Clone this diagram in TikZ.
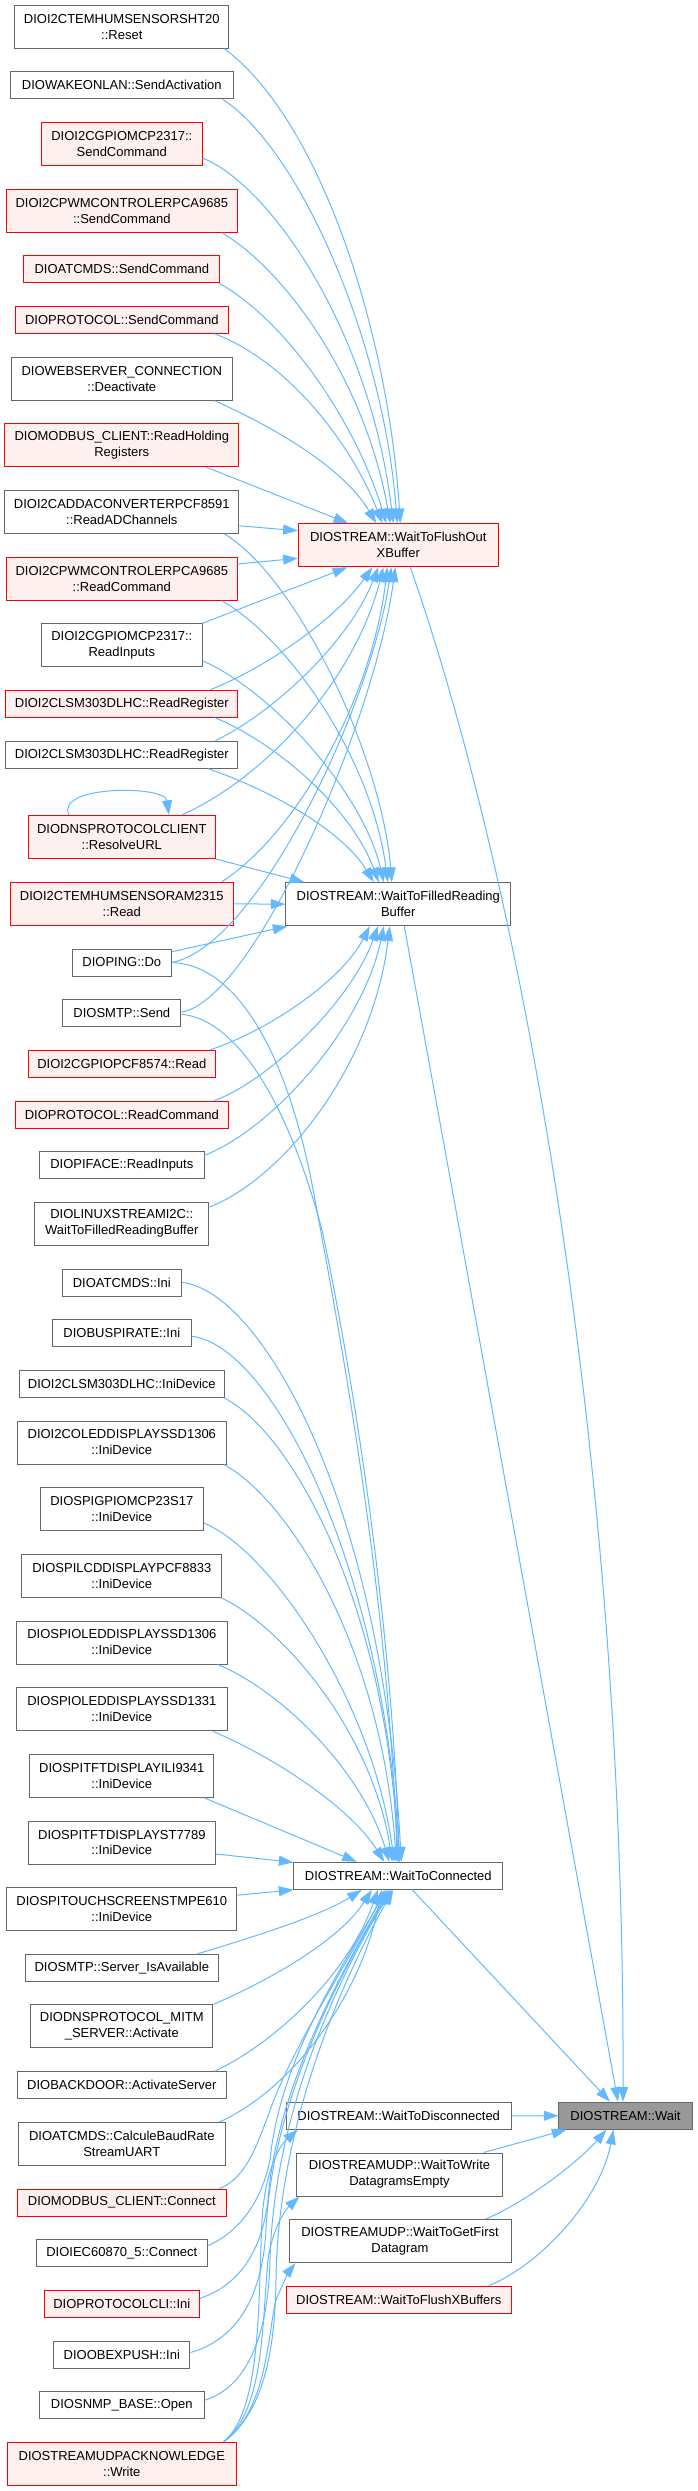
\documentclass[tikz,border=0pt]{standalone}
\usepackage{fontspec}
\setmainfont{Liberation Sans}
\usetikzlibrary{arrows.meta,calc}
\definecolor{edgeblue}{HTML}{63B8FF}
\definecolor{nodegray}{HTML}{666666}
\definecolor{redfill}{HTML}{FFF0F0}
\definecolor{waitfill}{HTML}{999999}

\begin{document}
\begin{tikzpicture}[x=0.75pt,y=-0.75pt,
  fn/.style={draw=nodegray,fill=white,line width=0.75pt,align=center,inner xsep=2pt,inner ysep=1pt,font=\fontsize{9.75pt}{12pt}\selectfont},
  one/.style={minimum height=20.25pt},
  two/.style={minimum height=32.25pt},
  hot/.style={draw=red,fill=redfill},
  cur/.style={fill=waitfill},
  call/.style={draw=edgeblue,line width=0.75pt,-{Triangle[length=11pt,width=7.5pt]}}]
\useasboundingbox (0,0) rectangle (697,2491);

% callers
\node[fn,two,minimum width=160.6pt] (sht20) at (121.8,26.7) {DIOI2CTEMHUMSENSORSHT20\\::Reset};
\node[fn,one,minimum width=167.2pt] (wakeonlan) at (121.8,85.3) {DIOWAKEONLAN::SendActivation};
\node[fn,two,hot,minimum width=120.3pt] (mcpsend) at (121.8,144) {DIOI2CGPIOMCP2317::\\SendCommand};
\node[fn,two,hot,minimum width=173.3pt] (pcasend) at (121.8,210.7) {DIOI2CPWMCONTROLERPCA9685\\::SendCommand};
\node[fn,one,hot,minimum width=146.8pt] (atsend) at (121.8,269.3) {DIOATCMDS::SendCommand};
\node[fn,one,hot,minimum width=159.5pt] (protosend) at (121.8,319.8) {DIOPROTOCOL::SendCommand};
\node[fn,two,minimum width=165.6pt] (websrv) at (121.8,378.7) {DIOWEBSERVER\_CONNECTION\\::Deactivate};
\node[fn,two,hot,minimum width=175.3pt] (mbholding) at (121.8,445.2) {DIOMODBUS\_CLIENT::ReadHolding\\Registers};
\node[fn,two,minimum width=175.6pt] (adda) at (121.8,511.8) {DIOI2CADDACONVERTERPCF8591\\::ReadADChannels};
\node[fn,two,hot,minimum width=173.3pt] (pcaread) at (121.8,578.7) {DIOI2CPWMCONTROLERPCA9685\\::ReadCommand};
\node[fn,two,minimum width=120.3pt] (mcpinputs) at (121.8,645.3) {DIOI2CGPIOMCP2317::\\ReadInputs};
\node[fn,one,hot,minimum width=173.9pt] (lsmregA) at (121.8,703.8) {DIOI2CLSM303DLHC::ReadRegister};
\node[fn,one,minimum width=173.9pt] (lsmregB) at (121.8,754.7) {DIOI2CLSM303DLHC::ReadRegister};
\node[fn,two,hot,minimum width=140.1pt] (dnsurl) at (121.8,837) {DIODNSPROTOCOLCLIENT\\::ResolveURL};
\node[fn,two,hot,minimum width=167.2pt] (am2315) at (121.8,903.8) {DIOI2CTEMHUMSENSORAM2315\\::Read};
\node[fn,one,minimum width=74.4pt] (ping) at (121.8,962.5) {DIOPING::Do};
\node[fn,one,minimum width=88.5pt] (smtpsend) at (121.8,1013.2) {DIOSMTP::Send};
\node[fn,one,hot,minimum width=140.7pt] (pcf8574) at (121.8,1063.8) {DIOI2CGPIOPCF8574::Read};
\node[fn,one,hot,minimum width=159.5pt] (protoread) at (121.8,1114.5) {DIOPROTOCOL::ReadCommand};
\node[fn,one,minimum width=123.3pt] (piface) at (121.8,1165.3) {DIOPIFACE::ReadInputs};
\node[fn,two,minimum width=130.7pt] (linuxi2c) at (121.8,1223.7) {DIOLINUXSTREAMI2C::\\WaitToFilledReadingBuffer};
\node[fn,one,minimum width=89.5pt] (atini) at (121.8,1282.5) {DIOATCMDS::Ini};
\node[fn,one,minimum width=103.9pt] (buspirate) at (121.8,1333.2) {DIOBUSPIRATE::Ini};
\node[fn,one,minimum width=153.5pt] (lsmini) at (121.8,1383.8) {DIOI2CLSM303DLHC::IniDevice};
\node[fn,two,minimum width=156.8pt] (i2coled) at (121.8,1442.5) {DIOI2COLEDDISPLAYSSD1306\\::IniDevice};
\node[fn,two,minimum width=122.7pt] (spigpio) at (121.8,1509.2) {DIOSPIGPIOMCP23S17\\::IniDevice};
\node[fn,two,minimum width=149.8pt] (spilcd) at (121.8,1575.8) {DIOSPILCDDISPLAYPCF8833\\::IniDevice};
\node[fn,two,minimum width=158.2pt] (oled1306) at (121.8,1642.5) {DIOSPIOLEDDISPLAYSSD1306\\::IniDevice};
\node[fn,two,minimum width=158.2pt] (oled1331) at (121.8,1709.2) {DIOSPIOLEDDISPLAYSSD1331\\::IniDevice};
\node[fn,two,minimum width=137.8pt] (ili9341) at (121.8,1775.8) {DIOSPITFTDISPLAYILI9341\\::IniDevice};
\node[fn,two,minimum width=140.4pt] (st7789) at (121.8,1842.5) {DIOSPITFTDISPLAYST7789\\::IniDevice};
\node[fn,two,minimum width=172.6pt] (stmpe610) at (121.8,1909.2) {DIOSPITOUCHSCREENSTMPE610\\::IniDevice};
\node[fn,one,minimum width=144.4pt] (smtpsrv) at (121.8,1967.8) {DIOSMTP::Server\_IsAvailable};
\node[fn,two,minimum width=136.7pt] (dnsmitm) at (121.8,2026.3) {DIODNSPROTOCOL\_MITM\\\_SERVER::Activate};
\node[fn,one,minimum width=156.5pt] (backdoor) at (121.8,2085.3) {DIOBACKDOOR::ActivateServer};
\node[fn,two,minimum width=155.2pt] (baudrate) at (121.8,2143.8) {DIOATCMDS::CalculeBaudRate\\StreamUART};
\node[fn,one,hot,minimum width=156.5pt] (mbconnect) at (121.8,2202.5) {DIOMODBUS\_CLIENT::Connect};
\node[fn,one,minimum width=128pt] (iec) at (121.8,2253.2) {DIOIEC60870\_5::Connect};
\node[fn,one,hot,minimum width=116.6pt] (protocli) at (121.8,2303.8) {DIOPROTOCOLCLI::Ini};
\node[fn,one,minimum width=102.2pt] (obexpush) at (121.8,2354.5) {DIOOBEXPUSH::Ini};
\node[fn,one,minimum width=123.3pt] (snmpopen) at (121.8,2405.2) {DIOSNMP\_BASE::Open};
\node[fn,two,hot,minimum width=171.6pt] (udpackwrite) at (121.8,2463.8) {DIOSTREAMUDPACKNOWLEDGE\\::Write};

% middle column
\node[fn,two,hot,minimum width=150pt] (flushout) at (398.3,545.3) {DIOSTREAM::WaitToFlushOut\\XBuffer};
\node[fn,two,minimum width=168.5pt] (filled) at (398.3,904.2) {DIOSTREAM::WaitToFilledReading\\Buffer};
\node[fn,one,minimum width=156.5pt] (connected) at (398.3,1875.8) {DIOSTREAM::WaitToConnected};
\node[fn,one,minimum width=168.5pt] (disconnected) at (398.7,2115.8) {DIOSTREAM::WaitToDisconnected};
\node[fn,two,minimum width=153.8pt] (udpwrite) at (399.5,2174.5) {DIOSTREAMUDP::WaitToWrite\\DatagramsEmpty};
\node[fn,two,minimum width=166.5pt] (udpfirst) at (400,2241.2) {DIOSTREAMUDP::WaitToGetFirst\\Datagram};
\node[fn,one,hot,minimum width=168.5pt] (flushx) at (398.7,2299.8) {DIOSTREAM::WaitToFlushXBuffers};
\node[fn,one,cur,minimum width=99.8pt] (wait) at (625.5,2115.7) {DIOSTREAM::Wait};

% into WaitToFlushOutXBuffer
\draw[call] ($(sht20.south east)+(-5,0)$) .. controls (320,120) and (388,330) .. ($(flushout.north)+(2,0)$);
\draw[call] ($(wakeonlan.south east)+(-11,0)$) .. controls (300,150) and (383,340) .. ($(flushout.north)+(-1,0)$);
\draw[call] ($(mcpsend.south east)+(0,-8)$) .. controls (270,185) and (370,330) .. ($(flushout.north)+(-5,0)$);
\draw[call] ($(pcasend.south east)+(-16,0)$) .. controls (285,270) and (365,380) .. ($(flushout.north)+(-8,0)$);
\draw[call] ($(atsend.south east)+(-1,0)$) .. controls (285,320) and (355,420) .. ($(flushout.north)+(-12,0)$);
\draw[call] ($(protosend.south east)+(-14,0)$) .. controls (285,360) and (350,440) .. ($(flushout.north)+(-16,0)$);
\draw[call] ($(websrv.south east)+(-18,0)$) .. controls (280,430) and (345,470) .. ($(flushout.north)+(-22,0)$);
\draw[call] ($(mbholding.south east)+(-33,0)$) -- ($(flushout.north)+(-50,0)$);
\draw[call] ($(adda.east)+(0,14)$) -- ($(flushout.west)+(0,-14.6)$);
\draw[call] ($(pcaread.east)+(0,-14.7)$) -- ($(flushout.west)+(0,13)$);
\draw[call] (mcpinputs.north east) -- ($(flushout.south)+(-51,0)$);
\draw[call] ($(lsmregA.north east)+(-28,0)$) .. controls (265,668) and (335,620) .. ($(flushout.south)+(-26,0)$);
\draw[call] ($(lsmregB.north east)+(-23,0)$) .. controls (275,712) and (350,640) .. ($(flushout.south)+(-20,0)$);
\draw[call] ($(dnsurl.north east)+(-34,0)$) .. controls (265,778) and (355,680) .. ($(flushout.south)+(-15,0)$);
\draw[call] ($(am2315.north east)+(-12,0)$) .. controls (295,835) and (372,700) .. ($(flushout.south)+(-11,0)$);
\draw[call] (ping.east) .. controls (260,945) and (372,700) .. ($(flushout.south)+(-7,0)$);
\draw[call] ($(smtpsend.east)+(0,-1)$) .. controls (255,1000) and (375,720) .. ($(flushout.south)+(-3,0)$);

% into WaitToFilledReadingBuffer
\draw[call] ($(adda.south east)+(-15,0)$) .. controls (300,580) and (382,760) .. ($(filled.north)+(-6.5,0)$);
\draw[call] ($(pcaread.south east)+(-16,0)$) .. controls (290,640) and (372,760) .. ($(filled.north)+(-10.5,0)$);
\draw[call] ($(mcpinputs.east)+(0,15.5)$) .. controls (270,690) and (362,790) .. ($(filled.north)+(-14.5,0)$);
\draw[call] ($(lsmregA.south east)+(-23,0)$) .. controls (280,745) and (352,810) .. ($(filled.north)+(-19.5,0)$);
\draw[call] ($(lsmregB.south east)+(-30,0)$) .. controls (270,790) and (342,830) .. ($(filled.north)+(-24.5,0)$);
\draw[call] (dnsurl.south east) -- ($(filled.north west)+(19,0)$);
\draw[call] (am2315.east) -- (filled.west);
\draw[call] ($(ping.east)+(0,-10.8)$) -- ($(filled.south west)+(2,0)$);
\draw[call] ($(pcf8574.north east)+(-6,0)$) .. controls (270,1030) and (342,980) .. ($(filled.south)+(-28.5,0)$);
\draw[call] ($(protoread.north east)+(-14,0)$) .. controls (270,1080) and (352,1000) .. ($(filled.south)+(-20.5,0)$);
\draw[call] ($(piface.east)+(0,-10)$) .. controls (270,1130) and (362,1030) .. ($(filled.south)+(-14.5,0)$);
\draw[call] ($(linuxi2c.east)+(0,-16.7)$) .. controls (280,1180) and (372,1070) .. ($(filled.south)+(-8.5,0)$);

% into WaitToConnected
\draw[call] (ping.east) .. controls (240,965) and (290,1060) .. (315,1200) .. controls (345,1360) and (388,1600) .. ($(connected.north)+(-1,0)$);
\draw[call] ($(smtpsend.east)+(0,1)$) .. controls (240,1020) and (290,1110) .. (322,1230) .. controls (352,1370) and (392,1620) .. ($(connected.north)+(1,0)$);
\draw[call] (atini.east) .. controls (260,1290) and (382,1500) .. ($(connected.north)+(3,0)$);
\draw[call] ($(buspirate.east)+(0,3)$) .. controls (270,1345) and (382,1560) .. ($(connected.north)+(1.5,0)$);
\draw[call] ($(lsmini.south east)+(-1,0)$) .. controls (290,1430) and (386,1600) .. (connected.north);
\draw[call] ($(i2coled.south east)+(-3,0)$) .. controls (290,1500) and (382,1650) .. ($(connected.north)+(-2,0)$);
\draw[call] ($(spigpio.east)+(0,14)$) .. controls (270,1550) and (372,1700) .. ($(connected.north)+(-4,0)$);
\draw[call] ($(spilcd.south east)+(-1,0)$) .. controls (280,1625) and (372,1730) .. ($(connected.north)+(-6,0)$);
\draw[call] ($(oled1306.south east)+(-10,0)$) .. controls (280,1690) and (362,1770) .. ($(connected.north)+(-9,0)$);
\draw[call] ($(oled1331.south east)+(-15,0)$) .. controls (280,1760) and (352,1810) .. ($(connected.north)+(-14,0)$);
\draw[call] ($(ili9341.south east)+(-10,0)$) -- ($(connected.north)+(-41.5,0)$);
\draw[call] ($(st7789.east)+(0,11.5)$) -- ($(connected.north west)+(0,0.5)$);
\draw[call] ($(stmpe610.east)+(0,-14)$) -- (connected.south west);
\draw[call] ($(smtpsrv.north east)+(-21,0)$) .. controls (260,1935) and (322,1915) .. ($(connected.south)+(-36.5,0)$);
\draw[call] (dnsmitm.north east) .. controls (270,1980) and (340,1940) .. ($(connected.south)+(-26.5,0)$);
\draw[call] ($(backdoor.north east)+(-12,0)$) .. controls (280,2040) and (350,1970) .. ($(connected.south)+(-20.5,0)$);
\draw[call] ($(baudrate.north east)+(-6,0)$) .. controls (290,2090) and (360,2000) .. ($(connected.south)+(-16.5,0)$);
\draw[call] ($(mbconnect.north east)+(-7,0)$) .. controls (245,2178) and (255,2150) .. (268,2116) .. controls (290,2050) and (350,1960) .. ($(connected.south)+(-13.5,0)$);
\draw[call] ($(iec.east)+(0,-7.5)$) .. controls (240,2232) and (262,2200) .. (270,2160) .. controls (280,2060) and (340,1970) .. ($(connected.south)+(-11.5,0)$);
\draw[call] ($(protocli.east)+(0,-5.5)$) .. controls (240,2285) and (262,2250) .. (268,2200) .. controls (276,2090) and (340,1975) .. ($(connected.south)+(-9.5,0)$);
\draw[call] ($(obexpush.east)+(0,-2)$) .. controls (235,2340) and (262,2300) .. (266,2230) .. controls (272,2100) and (340,1975) .. ($(connected.south)+(-8,0)$);
\draw[call] ($(snmpopen.east)+(0,-5)$) .. controls (245,2388) and (268,2340) .. (270,2260) .. controls (274,2110) and (340,1975) .. ($(connected.south)+(-6.5,0)$);
\draw[call] ($(udpackwrite.north east)+(-13,0)$) .. controls (260,2415) and (275,2360) .. (276,2280) .. controls (278,2120) and (345,1975) .. ($(connected.south)+(-5,0)$);

% udp acknowledge write
\draw[call] ($(udpackwrite.north east)+(-13,0)$) .. controls (262,2410) and (258,2300) .. (262,2220) .. controls (265,2170) and (280,2145) .. ($(disconnected.south west)+(12,0)$);
\draw[call] ($(udpackwrite.north east)+(-13,0)$) .. controls (265,2410) and (262,2320) .. (268,2260) .. controls (272,2230) and (285,2210) .. ($(udpwrite.south west)+(3,0)$);
\draw[call] ($(udpackwrite.north east)+(-13,0)$) .. controls (268,2410) and (268,2330) .. (276,2300) .. controls (282,2285) and (290,2270) .. ($(udpfirst.south west)+(7,0)$);

% into Wait
\draw[call] ($(flushout.south)+(12,0)$) .. controls (520,880) and (625,1450) .. ($(wait.north)+(-2.5,0)$);
\draw[call] ($(filled.south)+(6,0)$) -- ($(wait.north)+(-7.5,0)$);
\draw[call] ($(connected.south)+(14,0)$) -- ($(wait.north)+(-15.5,0)$);
\draw[call] (disconnected.east) -- (wait.west);
\draw[call] ($(udpwrite.north east)+(-19,0)$) -- ($(wait.south west)+(8,0)$);
\draw[call] ($(udpfirst.north east)+(-26,0)$) .. controls (530,2200) and (580,2160) .. ($(wait.south)+(-19,0)$);
\draw[call] ($(flushx.north east)+(-23,0)$) .. controls (540,2265) and (600,2200) .. ($(wait.south)+(-12,0)$);

% recursive call
\draw[call] ($(dnsurl.north west)+(41,0)$) .. controls (55,785) and (165,785) .. ($(dnsurl.north west)+(141,0)$);
\end{tikzpicture}
\end{document}
